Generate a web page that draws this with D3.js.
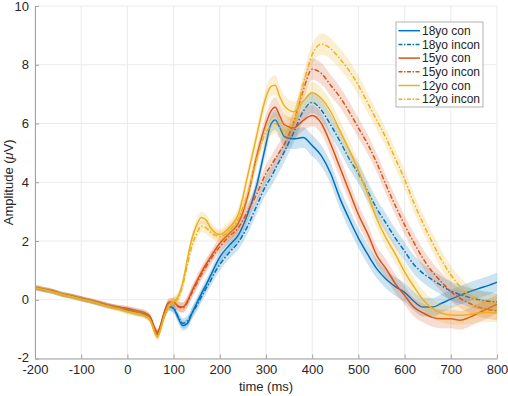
<!DOCTYPE html>
<html>
<head>
<meta charset="utf-8">
<script src="https://cdn.jsdelivr.net/npm/d3@7"></script>
<style>
  body { margin: 0; background: #fff; }
  text { font-family: "Liberation Sans", Arial, Helvetica, sans-serif; fill: #262626; }
</style>
</head>
<body>
<div id="chart"></div>
<script>
// time points (ms)
var times = [-200,-180,-160,-140,-120,-100,-80,-60,-40,-20,
  0,20,40,50,60,65,70,80,90,
  100,110,120,130,140,150,160,170,180,190,200,
  220,240,260,280,300,310,320,330,340,
  360,380,400,420,440,460,480,500,520,540,560,580,600,
  620,640,660,680,700,720,740,760,780,800];

// grand averages (uV), one array per group/condition
var blueCon = [0.40,0.34,0.27,0.17,0.12,0.04,-0.04,-0.12,-0.21,-0.28,
  -0.35,-0.43,-0.52,-0.66,-1.06,-1.17,-1.02,-0.55,-0.25,
  -0.30,-0.62,-0.88,-0.80,-0.45,-0.12,0.20,0.50,0.82,1.15,1.45,
  1.85,2.20,2.90,3.90,5.30,5.95,6.12,5.85,5.55,
  5.48,5.52,5.25,4.90,4.30,3.45,2.75,2.10,1.55,1.05,0.70,0.45,0.25,
  -0.05,-0.25,-0.25,-0.12,0.02,0.15,0.27,0.38,0.48,0.60];
var blueIncon = [0.41,0.33,0.28,0.18,0.11,0.03,-0.05,-0.13,-0.22,-0.29,
  -0.36,-0.44,-0.53,-0.67,-1.08,-1.18,-1.03,-0.52,-0.22,
  -0.28,-0.58,-0.80,-0.72,-0.45,-0.20,0.10,0.38,0.65,0.95,1.20,
  1.60,1.95,2.50,3.20,3.90,4.15,4.45,4.75,5.05,
  5.70,6.40,6.72,6.45,5.95,5.40,4.80,4.30,3.70,3.10,2.60,2.10,1.65,
  1.20,0.90,0.68,0.48,0.30,0.18,0.08,0.00,-0.05,-0.08];
var orangeCon = [0.43,0.36,0.29,0.19,0.13,0.05,-0.02,-0.10,-0.19,-0.25,
  -0.30,-0.38,-0.47,-0.60,-1.00,-1.12,-0.95,-0.42,-0.08,
  -0.08,-0.22,-0.25,-0.05,0.30,0.62,0.92,1.20,1.45,1.70,1.92,
  2.25,2.60,3.50,4.90,6.00,6.40,6.55,6.25,5.95,
  5.85,6.10,6.27,6.00,5.30,4.50,3.70,2.90,2.25,1.50,1.05,0.55,0.15,
  -0.25,-0.45,-0.60,-0.65,-0.65,-0.70,-0.60,-0.45,-0.30,-0.15];
var orangeIncon = [0.42,0.35,0.29,0.18,0.12,0.04,-0.03,-0.11,-0.20,-0.26,
  -0.31,-0.39,-0.48,-0.62,-1.02,-1.13,-0.97,-0.45,-0.12,
  -0.10,-0.24,-0.28,-0.08,0.25,0.55,0.85,1.12,1.38,1.60,1.80,
  2.15,2.45,3.00,3.60,4.30,4.55,4.80,5.05,5.30,
  6.05,7.10,7.85,7.70,7.30,6.90,6.40,5.85,5.30,4.65,3.90,3.20,2.55,
  1.95,1.40,0.95,0.60,0.28,0.05,-0.12,-0.25,-0.33,-0.38];
var yellowCon = [0.41,0.34,0.26,0.17,0.10,0.02,-0.05,-0.14,-0.24,-0.31,
  -0.40,-0.47,-0.57,-0.72,-1.15,-1.27,-1.10,-0.55,-0.20,
  -0.05,0.12,0.60,1.40,2.10,2.55,2.80,2.72,2.45,2.28,2.22,
  2.45,2.90,4.20,5.60,6.90,7.25,7.30,6.90,6.60,
  6.40,6.75,7.05,6.85,6.40,5.76,5.10,4.40,3.60,2.75,2.10,1.55,0.95,
  0.45,0.00,-0.30,-0.45,-0.52,-0.53,-0.50,-0.45,-0.43,-0.45];
var yellowIncon = [0.40,0.33,0.27,0.16,0.10,0.02,-0.06,-0.14,-0.23,-0.30,
  -0.40,-0.46,-0.56,-0.70,-1.12,-1.24,-1.08,-0.55,-0.22,
  -0.08,0.05,0.50,1.20,1.85,2.25,2.50,2.45,2.30,2.20,2.15,
  2.35,2.75,3.60,4.80,5.70,5.90,6.00,5.85,5.75,
  6.05,7.30,8.35,8.70,8.55,8.20,7.80,7.30,6.70,6.10,5.50,4.80,4.10,
  3.30,2.60,1.95,1.35,0.85,0.45,0.15,-0.03,-0.10,-0.12];

// standard error (half width of shaded band), shared
var sem = [0.08,0.08,0.08,0.08,0.08,0.08,0.08,0.08,0.08,0.08,
  0.09,0.1,0.1,0.1,0.12,0.12,0.12,0.12,0.14,
  0.15,0.16,0.17,0.18,0.19,0.2,0.2,0.2,0.2,0.2,0.2,
  0.22,0.24,0.26,0.28,0.3,0.32,0.34,0.35,0.35,
  0.35,0.35,0.36,0.36,0.36,0.35,0.35,0.34,0.33,0.32,0.32,0.32,0.32,
  0.32,0.32,0.32,0.32,0.32,0.32,0.32,0.32,0.32,0.32];

var seriesNames = ["18yo con","18yo incon","15yo con","15yo incon","12yo con","12yo incon"];
var seriesValues = [blueCon, blueIncon, orangeCon, orangeIncon, yellowCon, yellowIncon];
var seriesColors = ["#0072BD","#0072BD","#D95319","#D95319","#EDB120","#EDB120"];
var seriesDashed = [false, true, false, true, false, true];

var xTicks = [-200,-100,0,100,200,300,400,500,600,700,800];
var yTicks = [-2,0,2,4,6,8,10];

var svgWidth = 508, svgHeight = 396;
var margin = {top: 6, right: 11, bottom: 37.5, left: 35};
var width = svgWidth - margin.left - margin.right;
var height = svgHeight - margin.top - margin.bottom;

var svg = d3.select("#chart").append("svg")
  .attr("width", svgWidth)
  .attr("height", svgHeight);

var g = svg.append("g")
  .attr("transform", `translate(${margin.left},${margin.top})`);

var x = d3.scaleLinear().domain([-200, 800]).range([0, width]);
var y = d3.scaleLinear().domain([-2, 10]).range([height, 0]);

// grid
g.append("g").selectAll("line").data(xTicks).enter().append("line")
  .attr("x1", d => x(d)).attr("x2", d => x(d))
  .attr("y1", 0).attr("y2", height)
  .attr("stroke", "#ebebeb").attr("stroke-width", 1);
g.append("g").selectAll("line").data(yTicks).enter().append("line")
  .attr("x1", 0).attr("x2", width)
  .attr("y1", d => y(d)).attr("y2", d => y(d))
  .attr("stroke", "#ebebeb").attr("stroke-width", 1);

g.append("clipPath").attr("id", "clip")
  .append("rect").attr("width", width).attr("height", height);

var plot = g.append("g").attr("clip-path", "url(#clip)");

var area = d3.area()
  .x(d => x(d.t))
  .y0(d => y(d.v - d.e))
  .y1(d => y(d.v + d.e))
  .curve(d3.curveMonotoneX);
var line = d3.line()
  .x(d => x(d.t))
  .y(d => y(d.v))
  .curve(d3.curveMonotoneX);

seriesValues.forEach(function(vals, i) {
  var pts = times.map((t, k) => ({t: t, v: vals[k], e: sem[k]}));
  plot.append("path")
    .attr("d", area(pts))
    .attr("fill", seriesColors[i])
    .attr("fill-opacity", 0.2);
  plot.append("path")
    .attr("d", line(pts))
    .attr("fill", "none")
    .attr("stroke", seriesColors[i])
    .attr("stroke-width", 1.5)
    .attr("stroke-dasharray", seriesDashed[i] ? "5,2,1.5,2" : null);
});

// axes (plain hyphen minus like the original)
var fmt = d => String(d);
var xAxis = d3.axisBottom(x).tickValues(xTicks).tickFormat(fmt)
  .tickSizeInner(-4).tickSizeOuter(0).tickPadding(6.5);
var yAxis = d3.axisLeft(y).tickValues(yTicks).tickFormat(fmt)
  .tickSizeInner(-4).tickSizeOuter(0).tickPadding(6);

var gx = g.append("g").attr("transform", `translate(0,${height})`).call(xAxis);
var gy = g.append("g").call(yAxis);
[gx, gy].forEach(function(a) {
  a.select(".domain").attr("stroke", "#a0a0a0");
  a.selectAll(".tick line").attr("stroke", "#a0a0a0");
  a.selectAll(".tick text").style("font-size", "13px").attr("fill", "#262626");
});
// the -2 label sits a bit higher in the original
gy.selectAll(".tick text").filter(d => d === -2).attr("dy", "0.2em");

g.append("text")
  .attr("x", width / 2)
  .attr("y", height + 32)
  .attr("text-anchor", "middle")
  .style("font-size", "13px")
  .text("time (ms)");

var yl = g.append("text")
  .attr("transform", "rotate(-90)")
  .attr("x", -height / 2)
  .attr("y", -22)
  .attr("text-anchor", "middle")
  .style("font-size", "13px");
yl.append("tspan").text("Amplitude (");
yl.append("tspan").style("font-style", "italic").text("\u03bc");
yl.append("tspan").text("V)");

// legend
var legend = svg.append("g").attr("transform", "translate(396,22)");
legend.append("rect")
  .attr("width", 87).attr("height", 85)
  .attr("fill", "#fff").attr("stroke", "#a0a0a0").attr("stroke-width", 0.8);
seriesNames.forEach(function(name, i) {
  var yy = 8.7 + i * 13.7;
  legend.append("line")
    .attr("x1", 2.5).attr("x2", 24)
    .attr("y1", yy).attr("y2", yy)
    .attr("stroke", seriesColors[i]).attr("stroke-width", 1.5)
    .attr("stroke-dasharray", seriesDashed[i] ? "4,1.5,1.5,1.5" : null);
  legend.append("text")
    .attr("x", 26).attr("y", yy + 4.2)
    .style("font-size", "12px")
    .text(name);
});
</script>
</body>
</html>
